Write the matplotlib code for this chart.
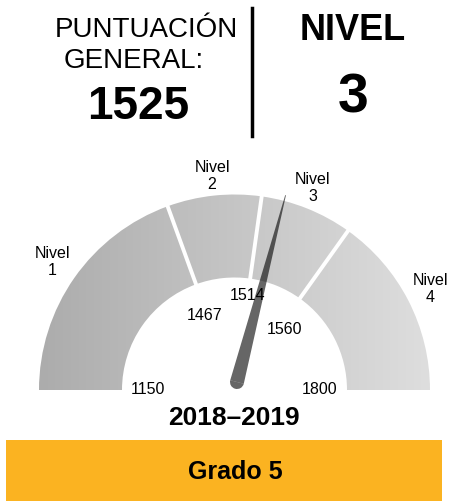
"""
Gauge chart: puntuación general y nivel.
"""
import numpy as np
import matplotlib.pyplot as plt
from matplotlib.patches import Wedge, Polygon, Circle, Rectangle
from matplotlib.colors import LinearSegmentedColormap

plt.rcParams['font.family'] = ['Liberation Sans', 'DejaVu Sans']

# --- Data ---
score = 1525
level = 3
level_names = ["Nivel\n1", "Nivel\n2", "Nivel\n3", "Nivel\n4"]
cut_scores = [1150, 1467, 1514, 1560, 1800]
year_label = "2018\u20132019"
grade_label = "Grado 5"

# --- Layout (pixel coords, y up) ---
W, H = 450, 501
cx, cy = 234.5, 111
r_out, r_in = 195.5, 112.5
seg_angles = [180, 110, 82, 54.5, 0]       # angle at each cut score
piv = (237, 119)

fig = plt.figure(figsize=(W / 100, H / 100), dpi=100)
ax = fig.add_axes([0, 0, 1, 1])
ax.set_xlim(0, W)
ax.set_ylim(0, H)
ax.set_aspect("auto")
ax.axis("off")

# gauge segments with horizontal grey gradient
cmap = LinearSegmentedColormap.from_list("g", ["#acacac", "#dedede"])
grad = np.linspace(0, 1, 256).reshape(1, -1)
for i in range(4):
    w = Wedge((cx, cy), r_out, seg_angles[i + 1], seg_angles[i],
              width=r_out - r_in, facecolor="none", edgecolor="none")
    ax.add_patch(w)
    im = ax.imshow(grad, cmap=cmap, extent=(cx - r_out, cx + r_out, cy, cy + r_out),
                   aspect="auto", zorder=1)
    im.set_clip_path(w)

# white separators
for a in seg_angles[1:-1]:
    t = np.deg2rad(a)
    ax.plot([cx + (r_in - 2) * np.cos(t), cx + (r_out + 2) * np.cos(t)],
            [cy + (r_in - 2) * np.sin(t), cy + (r_out + 2) * np.sin(t)],
            color="white", lw=2.8, zorder=2, solid_capstyle="butt")

# level labels
lvl_pos = [(52, 239), (212, 325), (313, 313), (430, 212)]
for name, (x, y) in zip(level_names, lvl_pos):
    ax.text(x, y, name, ha="center", va="center", fontsize=11.5,
            linespacing=1.2, zorder=3)

# cut score labels
cut_pos = [(148, 111), (205, 185), (248, 206), (285, 171), (320, 111)]
for c, (x, y) in zip(cut_scores, cut_pos):
    ax.text(x, y, str(c), ha="center", va="center", fontsize=11.5, zorder=3)

# needle: piecewise-linear angle within the level segments
ang = np.interp(score, cut_scores, seg_angles)
t = np.deg2rad(ang)
L = 193
tip = (piv[0] + L * np.cos(t), piv[1] + L * np.sin(t))
n = (-np.sin(t), np.cos(t))
hw = 7
needle = Polygon([(piv[0] + hw * n[0], piv[1] + hw * n[1]),
                  (tip[0] + 0.4 * n[0], tip[1] + 0.4 * n[1]),
                  (tip[0] - 0.4 * n[0], tip[1] - 0.4 * n[1]),
                  (piv[0] - hw * n[0], piv[1] - hw * n[1])],
                 closed=True, facecolor="black", alpha=0.6, edgecolor="none",
                 zorder=4)
ax.add_patch(needle)
ax.add_patch(Wedge(piv, hw, ang + 90, ang + 270, facecolor="black", alpha=0.6,
                   edgecolor="none", zorder=4))

# header
ax.text(146, H - 30, "PUNTUACIÓN", ha="center", va="center", fontsize=20)
ax.text(134, H - 61, "GENERAL:", ha="center", va="center", fontsize=20)
ax.text(138, H - 107, str(score), ha="center", va="center", fontsize=33,
        fontweight="bold")
ax.plot([252, 252], [H - 8, H - 136], color="black", lw=2.5)
ax.text(353, H - 30, "NIVEL", ha="center", va="center", fontsize=26,
        fontweight="bold")
ax.text(353, H - 98, str(level), ha="center", va="center", fontsize=40,
        fontweight="bold")

# footer
ax.text(234, H - 418, year_label, ha="center", va="center", fontsize=19,
        fontweight="bold")
ax.add_patch(Rectangle((6, 0), 436, H - 440, facecolor="#fbb321",
                       edgecolor="none"))
ax.text(235, H - 472, grade_label, ha="center", va="center", fontsize=18,
        fontweight="bold")

fig.savefig("out.png", dpi=100)
